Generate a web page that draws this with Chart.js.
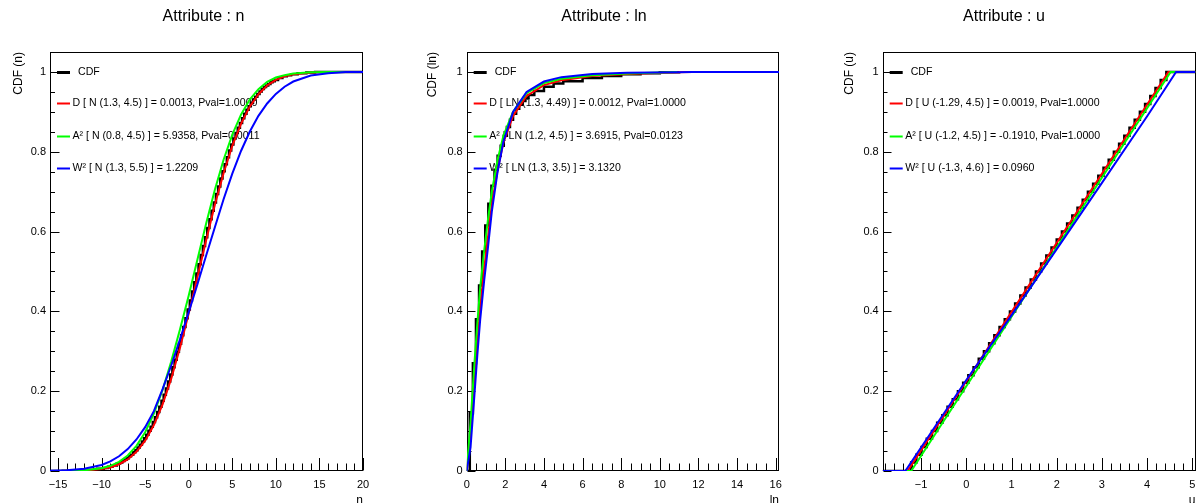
<!DOCTYPE html>
<html>
<head>
<meta charset="utf-8">
<script src="https://cdn.jsdelivr.net/npm/chart.js@4/dist/chart.umd.min.js"></script>
<style>
html,body{margin:0;padding:0;background:#fff;}
#wrap{position:relative;width:1196px;height:503px;overflow:hidden;background:#fff;}
canvas{position:absolute;top:0;}
</style>
</head>
<body>
<div id="wrap">
<canvas id="c1" style="left:0px"></canvas>
<canvas id="c2" style="left:398px"></canvas>
<canvas id="c3" style="left:797px"></canvas>
</div>
<script>
// ================= DATA =================
const yTicks = [0, 0.2, 0.4, 0.6, 0.8, 1];

// ---- Panel 1 : Attribute n ----
const n_title = "Attribute : n";
const n_xTicks = [-15, -10, -5, 0, 5, 10, 15, 20];
const n_labels = ["CDF", "D [ N (1.3, 4.5) ] = 0.0013, Pval=1.0000", "A\u00B2 [ N (0.8, 4.5) ] = 5.9358, Pval=0.0011", "W\u00B2 [ N (1.3, 5.5) ] = 1.2209"];
const n_fit_x = [-15.92, -14, -12, -10, -9, -8, -7, -6, -5, -4, -3, -2, -1, 0, 1, 2, 3, 4, 5, 6, 7, 8, 9, 10, 11, 12, 14, 16, 18, 20];
const n_D  = [0, 0.0002, 0.001, 0.005, 0.009, 0.017, 0.029, 0.048, 0.076, 0.115, 0.167, 0.232, 0.309, 0.395, 0.486, 0.578, 0.667, 0.746, 0.815, 0.870, 0.913, 0.944, 0.966, 0.980, 0.989, 0.994, 0.9986, 1, 1, 1];
const n_A2 = [0, 0.0003, 0.0017, 0.007, 0.013, 0.023, 0.039, 0.063, 0.097, 0.144, 0.203, 0.275, 0.355, 0.440, 0.530, 0.620, 0.705, 0.780, 0.843, 0.893, 0.931, 0.957, 0.975, 0.986, 0.992, 0.996, 0.999, 1, 1, 1];
const n_W2 = [0.0005, 0.0017, 0.0054, 0.015, 0.024, 0.037, 0.055, 0.079, 0.110, 0.150, 0.205, 0.265, 0.330, 0.398, 0.468, 0.540, 0.611, 0.681, 0.745, 0.802, 0.850, 0.890, 0.921, 0.945, 0.963, 0.976, 0.991, 0.997, 1, 1];
const n_cdf_x = [-15.92, -13, -12, -11, -10, -9.5, -9, -8.5,
  -8, -7.75, -7.5, -7.25, -7, -6.75, -6.5, -6.25, -6, -5.75, -5.5, -5.25, -5, -4.75, -4.5, -4.25, -4, -3.75, -3.5, -3.25,
  -3, -2.75, -2.5, -2.25, -2, -1.75, -1.5, -1.25, -1, -0.75, -0.5, -0.25, 0, 0.25, 0.5, 0.75, 1, 1.25, 1.5, 1.75,
  2, 2.25, 2.5, 2.75, 3, 3.25, 3.5, 3.75, 4, 4.25, 4.5, 4.75, 5, 5.25, 5.5, 5.75, 6, 6.25, 6.5, 6.75,
  7, 7.25, 7.5, 7.75, 8, 8.25, 8.5, 8.75, 9, 9.25, 9.5, 9.75, 10,
  10.5, 11, 11.5, 12, 13, 14, 15, 20];
const n_cdf_y = [0, 0.0006, 0.0013, 0.0028, 0.0055, 0.0077, 0.0104, 0.014,
  0.019, 0.021, 0.025, 0.028, 0.032, 0.037, 0.041, 0.047, 0.052, 0.059, 0.066, 0.074, 0.082, 0.091, 0.101, 0.111, 0.123, 0.135, 0.148, 0.161,
  0.176, 0.191, 0.207, 0.224, 0.242, 0.26, 0.279, 0.299, 0.319, 0.34, 0.361, 0.383, 0.405, 0.427, 0.45, 0.473, 0.495, 0.518, 0.541, 0.564,
  0.586, 0.609, 0.631, 0.652, 0.673, 0.694, 0.713, 0.733, 0.751, 0.769, 0.786, 0.803, 0.818, 0.833, 0.847, 0.86, 0.872, 0.884, 0.895, 0.905,
  0.914, 0.923, 0.931, 0.938, 0.945, 0.951, 0.957, 0.962, 0.966, 0.97, 0.974, 0.977, 0.98,
  0.985, 0.989, 0.992, 0.994, 0.997, 0.9986, 1, 1];

// ---- Panel 2 : Attribute ln ----
const ln_title = "Attribute : ln";
const ln_xTicks = [0, 2, 4, 6, 8, 10, 12, 14, 16];
const ln_labels = ["CDF", "D [ LN (1.3, 4.49) ] = 0.0012, Pval=1.0000", "A\u00B2 [ LN (1.2, 4.5) ] = 3.6915, Pval=0.0123", "W\u00B2 [ LN (1.3, 3.5) ] = 3.1320"];
const ln_fit_x = [0, 0.2, 0.4, 0.55, 0.7, 0.9, 1.1, 1.3, 1.6, 1.9, 2.4, 3.1, 4.0, 4.9, 6.5, 8.3, 10.9, 11.7, 16.17];
const ln_D  = [0, 0.09, 0.225, 0.317, 0.41, 0.505, 0.585, 0.668, 0.755, 0.823, 0.89, 0.94, 0.967, 0.979, 0.99, 0.995, 0.999, 1, null];
const ln_A2 = [0, 0.12, 0.27, 0.37, 0.46, 0.55, 0.63, 0.70, 0.78, 0.84, 0.90, 0.947, 0.972, 0.983, 0.992, 0.996, 1, null, null];
const ln_W2 = [0, 0.06, 0.19, 0.29, 0.38, 0.475, 0.56, 0.65, 0.75, 0.825, 0.9, 0.95, 0.976, 0.987, 0.995, 0.998, 0.9995, 1, 1];
const ln_cdf_x = [0, 0.16, 0.32, 0.48, 0.64, 0.80, 0.96, 1.12, 1.28, 1.44, 1.60, 1.76, 1.92, 2.08, 2.24, 2.40, 2.56, 2.72, 2.88, 3.04, 3.2, 3.5, 4.0, 4.5, 5.0, 6.0, 7.0, 8.0, 9.0, 10.0, 11.0];
const ln_cdf_y = [0, 0.145, 0.27, 0.38, 0.465, 0.55, 0.615, 0.67, 0.715, 0.755, 0.79, 0.815, 0.84, 0.862, 0.88, 0.895, 0.908, 0.918, 0.927, 0.935, 0.942, 0.952, 0.963, 0.971, 0.977, 0.985, 0.99, 0.994, 0.997, 0.999, 1];

// ---- Panel 3 : Attribute u ----
const u_title = "Attribute : u";
const u_xTicks = [-1, 0, 1, 2, 3, 4, 5];
const u_labels = ["CDF", "D [ U (-1.29, 4.5) ] = 0.0019, Pval=1.0000", "A\u00B2 [ U (-1.2, 4.5) ] = -0.1910, Pval=1.0000", "W\u00B2 [ U (-1.3, 4.6) ] = 0.0960"];
const u_D_x = [-1.85, -1.30, 4.47, 5.07];
const u_D   = [0, 0, 1, 1];
const u_A2_x = [-1.85, -1.22, 4.52, 5.07];
const u_A2   = [0, 0, 1, 1];
const u_W2_x = [-1.85, -1.35, 0, 1, 2, 3, 4, 4.64, 5.07];
const u_W2   = [0, 0, 0.228, 0.39, 0.556, 0.722, 0.889, 1, 1];
const u_cdf_x = [-1.85, -1.28, -1.16, -1.05, -0.93, -0.82, -0.70, -0.59, -0.47, -0.36, -0.24, -0.13, -0.01, 0.10, 0.22, 0.33, 0.45, 0.56, 0.68, 0.79, 0.91, 1.02, 1.14, 1.25, 1.37, 1.48, 1.60, 1.71, 1.83, 1.94, 2.06, 2.17, 2.29, 2.40, 2.52, 2.63, 2.75, 2.86, 2.98, 3.09, 3.21, 3.32, 3.44, 3.55, 3.67, 3.78, 3.90, 4.01, 4.13, 4.24, 4.36, 4.49, 5.07];
const u_cdf_y = [0, 0, 0.021, 0.041, 0.06, 0.081, 0.1, 0.121, 0.14, 0.161, 0.18, 0.2, 0.221, 0.24, 0.26, 0.281, 0.3, 0.32, 0.34, 0.361, 0.38, 0.4, 0.42, 0.44, 0.46, 0.48, 0.5, 0.52, 0.54, 0.56, 0.58, 0.6, 0.62, 0.64, 0.66, 0.68, 0.7, 0.72, 0.74, 0.76, 0.78, 0.8, 0.82, 0.84, 0.86, 0.88, 0.9, 0.92, 0.94, 0.96, 0.98, 1, 1];

// ================= DRAWING =================
const FONT = '"Liberation Sans", Arial, Helvetica, sans-serif';
const pts = (xs, ys) => xs.map((x, i) => ({x: x, y: ys[i]}));

const rootPlugin = {
  id: 'rootStyle',
  beforeDatasetsDraw(chart, args, o) {
    const {ctx, chartArea: a, scales: {x, y}} = chart;
    ctx.save();
    // frame and inward ticks (drawn under the curves)
    ctx.strokeStyle = '#000';
    ctx.lineWidth = 1;
    const L = Math.round(a.left) + 0.5, R = Math.round(a.right) - 0.5;
    const T = Math.round(a.top) + 0.5, B = Math.round(a.bottom) - 0.5;
    ctx.strokeRect(L, T, R - L, B - T);
    ctx.beginPath();
    const kx0 = Math.ceil(x.min / o.xMinor - 1e-6), kx1 = Math.floor(x.max / o.xMinor + 1e-6);
    for (let k = kx0; k <= kx1; k++) {
      const v = k * o.xMinor;
      const r = v / o.xMajor;
      const major = Math.abs(r - Math.round(r)) < 1e-6;
      const px = Math.round(x.getPixelForValue(v)) + 0.5;
      ctx.moveTo(px, B);
      ctx.lineTo(px, B - (major ? 12.5 : 7));
    }
    const ky0 = Math.ceil(y.min / 0.05 - 1e-6), ky1 = Math.floor(y.max / 0.05 + 1e-6);
    for (let k = ky0; k <= ky1; k++) {
      const v = k * 0.05;
      const major = k % 4 === 0;
      const py = Math.round(y.getPixelForValue(v)) + 0.5;
      ctx.moveTo(L, py);
      ctx.lineTo(L + (major ? o.yMajLen : o.yMinLen), py);
    }
    ctx.stroke();
    // legend
    ctx.font = '10.6px ' + FONT;
    ctx.textBaseline = 'middle';
    ctx.textAlign = 'left';
    chart.data.datasets.forEach((ds, i) => {
      const ly = Math.round(a.top + o.legendY[i]) + 0.5;
      ctx.strokeStyle = ds.borderColor;
      ctx.lineWidth = i === 0 ? 3 : 2;
      ctx.beginPath();
      ctx.moveTo(a.left + 7, ly);
      ctx.lineTo(a.left + 20, ly);
      ctx.stroke();
      ctx.fillStyle = '#000';
      ctx.fillText(ds.label, a.left + (i === 0 ? 28 : 22.5), ly);
    });
    ctx.restore();
  },
  afterDraw(chart, args, o) {
    const {ctx} = chart;
    ctx.save();
    ctx.fillStyle = '#000';
    ctx.font = '16px ' + FONT;
    ctx.textAlign = 'center';
    ctx.textBaseline = 'middle';
    ctx.fillText(o.title, o.titleX, 17);
    ctx.restore();
  }
};

function fmtX(v) {
  return (v < 0 ? '\u2212' : '') + String(Math.abs(v));
}
function fmtY(v) {
  if (v === 0) return '0';
  if (v === 1) return '1';
  return v.toFixed(1);
}

function makeDatasets(labels, cdf, d, a2, w2, stepMode, cdfWidth) {
  return [
    {label: labels[0], data: cdf, borderColor: '#000000', borderWidth: cdfWidth, stepped: stepMode, order: 4},
    {label: labels[1], data: d, borderColor: '#ff0000', borderWidth: 2, order: 3},
    {label: labels[2], data: a2, borderColor: '#00ff00', borderWidth: 2, order: 2},
    {label: labels[3], data: w2, borderColor: '#0000ff', borderWidth: 2, order: 1}
  ].map(ds => Object.assign({showLine: true, pointRadius: 0, pointHoverRadius: 0, fill: false, tension: 0}, ds));
}

function buildChart(id, width, P) {
  const cv = document.getElementById(id);
  cv.width = width;
  cv.height = 503;
  cv.style.width = width + 'px';
  cv.style.height = '503px';
  const zeroPad = s => { s.paddingLeft = 0; s.paddingRight = 0; s.paddingTop = 0; s.paddingBottom = 0; };
  return new Chart(cv, {
    type: 'scatter',
    data: {datasets: P.datasets},
    options: {
      responsive: false,
      animation: false,
      devicePixelRatio: 1,
      events: [],
      layout: {padding: {top: 52, right: P.padRight, bottom: 0, left: 0}},
      plugins: {
        legend: {display: false},
        tooltip: {enabled: false},
        title: {display: false},
        rootStyle: {title: P.title, titleX: P.titleX, xMinor: P.xMinor, xMajor: P.xMajor,
                    yMajLen: P.yMajLen, yMinLen: P.yMinLen, legendY: [20.3, 51.3, 84, 115.7]}
      },
      scales: {
        x: {
          type: 'linear', position: 'bottom', min: P.xMin, max: P.xMax,
          afterFit: s => { s.height = 32; zeroPad(s); },
          afterBuildTicks: s => { s.ticks = P.xTicks.map(v => ({value: v})); },
          grid: {display: false, drawTicks: false},
          border: {display: false},
          ticks: {autoSkip: false, maxRotation: 0, minRotation: 0, padding: 7, color: '#000',
                  font: {family: FONT, size: 11}, callback: v => fmtX(v)},
          title: {display: true, text: P.xTitle, align: 'end', color: '#000',
                  font: {family: FONT, size: 12}, padding: {top: 0, bottom: -5}}
        },
        y: {
          type: 'linear', position: 'left', min: 0, max: 1.05,
          afterFit: s => { s.width = P.yWidth; zeroPad(s); },
          afterBuildTicks: s => { s.ticks = yTicks.map(v => ({value: v})); },
          grid: {display: false, drawTicks: false},
          border: {display: false},
          ticks: {autoSkip: false, padding: 4, color: '#000',
                  font: {family: FONT, size: 11}, callback: v => fmtY(v)},
          title: {display: true, text: P.yTitle, align: 'end', color: '#000',
                  font: {family: FONT, size: 12}, padding: {top: P.yTitlePad, bottom: 0}}
        }
      }
    },
    plugins: [rootPlugin]
  });
}

buildChart('c1', 398, {
  title: n_title, titleX: 203.5, xTitle: 'n', yTitle: 'CDF (n)',
  xMin: -15.92, xMax: 20.0, xTicks: n_xTicks, xMinor: 1, xMajor: 5,
  yWidth: 50, padRight: 35, yTitlePad: 11, yMajLen: 9, yMinLen: 4.5,
  datasets: makeDatasets(n_labels, pts(n_cdf_x, n_cdf_y), pts(n_fit_x, n_D), pts(n_fit_x, n_A2), pts(n_fit_x, n_W2), 'middle', 2.5)
});

buildChart('c2', 398, {
  title: ln_title, titleX: 206, xTitle: 'ln', yTitle: 'CDF (ln)',
  xMin: 0, xMax: 16.17, xTicks: ln_xTicks, xMinor: 0.5, xMajor: 2,
  yWidth: 68.7, padRight: 17, yTitlePad: 27.8, yMajLen: 8, yMinLen: 4,
  datasets: makeDatasets(ln_labels, pts(ln_cdf_x, ln_cdf_y), pts(ln_fit_x, ln_D), pts(ln_fit_x, ln_A2), pts(ln_fit_x, ln_W2), 'before', 2.5)
});

buildChart('c3', 399, {
  title: u_title, titleX: 207, xTitle: 'u', yTitle: 'CDF (u)',
  xMin: -1.85, xMax: 5.07, xTicks: u_xTicks, xMinor: 0.2, xMajor: 1,
  yWidth: 85.7, padRight: 0.5, yTitlePad: 45.8, yMajLen: 8, yMinLen: 4,
  datasets: makeDatasets(u_labels, pts(u_cdf_x, u_cdf_y), pts(u_D_x, u_D), pts(u_A2_x, u_A2), pts(u_W2_x, u_W2), 'middle', 2.5)
});
</script>
</body>
</html>
